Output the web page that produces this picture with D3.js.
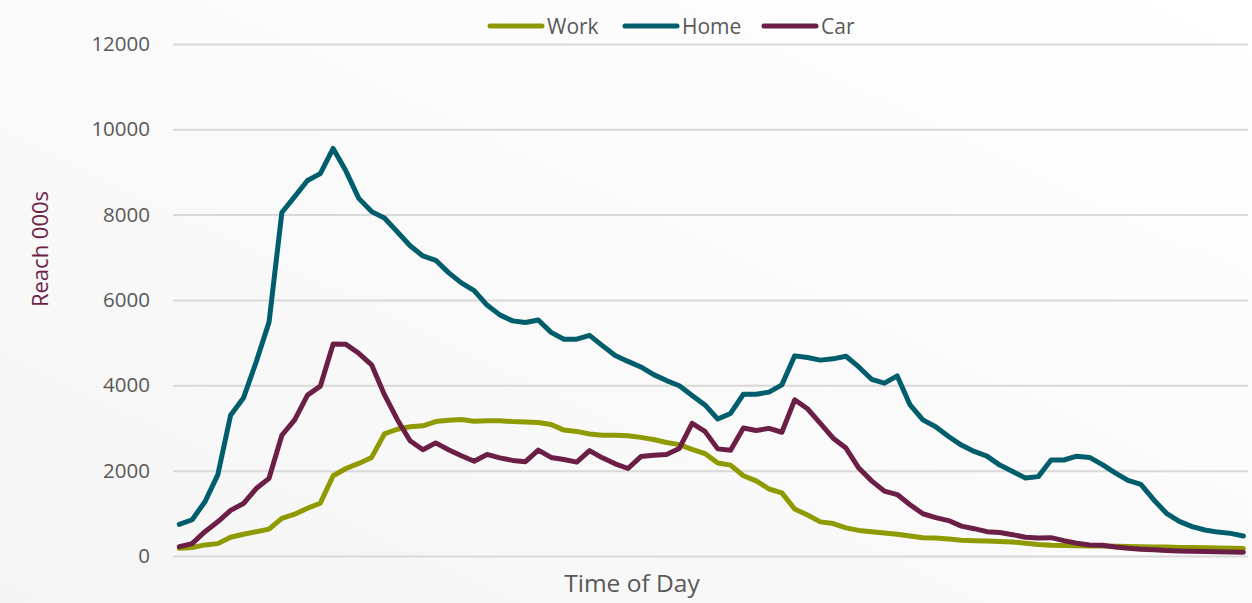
<!DOCTYPE html>
<html>
<head>
<meta charset="utf-8">
<script src="https://cdn.jsdelivr.net/npm/d3@7/dist/d3.min.js"></script>
<style>
  html, body { margin: 0; padding: 0; background: #fff; }
  svg { display: block; font-family: 'Open Sans', sans-serif; }
</style>
</head>
<body>
<svg id="chart" width="1252" height="603"></svg>
<script>
// quarter-hour slots (not shown on the axis)
var times = ['05:00','05:15','05:30','05:45','06:00','06:15','06:30','06:45','07:00','07:15','07:30','07:45',
  '08:00','08:15','08:30','08:45','09:00','09:15','09:30','09:45','10:00','10:15','10:30','10:45',
  '11:00','11:15','11:30','11:45','12:00','12:15','12:30','12:45','13:00','13:15','13:30','13:45',
  '14:00','14:15','14:30','14:45','15:00','15:15','15:30','15:45','16:00','16:15','16:30','16:45',
  '17:00','17:15','17:30','17:45','18:00','18:15','18:30','18:45','19:00','19:15','19:30','19:45',
  '20:00','20:15','20:30','20:45','21:00','21:15','21:30','21:45','22:00','22:15','22:30','22:45',
  '23:00','23:15','23:30','23:45','00:00','00:15','00:30','00:45','01:00','01:15','01:30','01:45'];

var work = [180,200,260,290,440,510,570,630,880,980,1120,1240,1880,2050,2170,2310,2860,2970,3030,3050,
  3150,3180,3200,3160,3170,3170,3150,3140,3130,3080,2950,2920,2860,2830,2830,2820,2780,2730,2660,2610,
  2500,2400,2180,2130,1880,1760,1570,1480,1100,960,800,760,660,600,570,540,510,470,430,420,
  400,370,360,350,340,330,300,270,250,245,240,235,232,228,222,218,212,208,202,198,192,186,180,175];

var home = [740,850,1270,1900,3300,3700,4550,5480,8050,8420,8800,8960,9550,9020,8380,8070,7920,7600,7270,7030,
  6930,6640,6400,6220,5880,5650,5510,5470,5530,5240,5080,5080,5170,4930,4700,4560,4430,4250,4110,3990,
  3760,3540,3210,3340,3790,3790,3840,4010,4690,4650,4590,4620,4680,4430,4140,4050,4220,3540,3190,3030,
  2800,2600,2450,2340,2130,1980,1830,1860,2250,2250,2340,2310,2140,1950,1770,1680,1320,1000,810,690,
  610,560,530,470];

var car = [220,290,570,800,1070,1230,1580,1820,2830,3190,3770,3980,4970,4960,4750,4480,3780,3200,2700,2490,
  2650,2490,2350,2220,2380,2300,2240,2210,2480,2310,2260,2200,2470,2300,2160,2050,2330,2360,2380,2520,
  3110,2920,2510,2480,3000,2940,2990,2900,3660,3450,3110,2760,2530,2060,1760,1520,1440,1200,990,900,
  830,700,640,570,550,500,440,420,430,360,300,260,250,210,180,160,145,130,120,110,105,100,95,90];

var yTicks = [0, 2000, 4000, 6000, 8000, 10000, 12000];

var seriesNames = ['Work', 'Home', 'Car'];
var seriesColors = ['#8f9a00', '#005e6c', '#6b1f47'];

var svg = d3.select('#chart');

// faint background wash
var defs = svg.append('defs');
var grad = defs.append('linearGradient')
    .attr('id', 'bg')
    .attr('x1', '100%').attr('y1', '0%')
    .attr('x2', '0%').attr('y2', '100%');
grad.append('stop').attr('offset', '0%').attr('stop-color', '#ffffff');
grad.append('stop').attr('offset', '100%').attr('stop-color', '#f5f5f5');
svg.append('rect')
    .attr('width', 1252)
    .attr('height', 603)
    .attr('fill', 'url(#bg)');

var x = d3.scalePoint()
    .domain(times)
    .range([179.3, 1243.4]);

var y = d3.scaleLinear()
    .domain([0, 12000])
    .range([556, 43.9]);

// grid + tick labels
var yAxis = svg.append('g')
    .attr('class', 'axis')
    .attr('transform', 'translate(173,0)')
    .call(d3.axisLeft(y).tickValues(yTicks).tickSize(-1075).tickPadding(23).tickFormat(d3.format('d')));

yAxis.select('.domain').remove();
yAxis.selectAll('.tick line')
    .attr('stroke', '#d9d9d9')
    .attr('stroke-width', 2);
yAxis.selectAll('.tick text')
    .attr('fill', '#595959')
    .attr('font-size', '20.5px')
    .attr('font-family', "'Open Sans', sans-serif");

// lines
var seriesData = [work, home, car];
var line = d3.line()
    .x(function(d, i) { return x(times[i]); })
    .y(function(d) { return y(d); });

svg.append('g')
    .selectAll('path')
    .data(seriesData)
    .enter().append('path')
    .attr('d', line)
    .attr('fill', 'none')
    .attr('stroke', function(d, i) { return seriesColors[i]; })
    .attr('stroke-width', 5)
    .attr('stroke-linejoin', 'round')
    .attr('stroke-linecap', 'round');

// axis titles
svg.append('text')
    .attr('x', 632)
    .attr('y', 592)
    .attr('text-anchor', 'middle')
    .attr('font-size', '24.5px')
    .attr('fill', '#595959')
    .text('Time of Day');

svg.append('text')
    .attr('transform', 'translate(48,249) rotate(-90)')
    .attr('text-anchor', 'middle')
    .attr('font-size', '22px')
    .attr('fill', '#6b1f47')
    .text('Reach 000s');

// legend
var legendX = [488, 623, 762];
var legend = svg.append('g')
    .selectAll('g')
    .data(seriesNames)
    .enter().append('g')
    .attr('transform', function(d, i) {
        return 'translate(' + legendX[i] + ',26)';
    });

legend.append('line')
    .attr('x1', 2)
    .attr('x2', 54)
    .attr('stroke', function(d, i) { return seriesColors[i]; })
    .attr('stroke-width', 5)
    .attr('stroke-linecap', 'round');

legend.append('text')
    .attr('x', 59)
    .attr('y', 7.5)
    .attr('font-size', '21px')
    .attr('fill', '#595959')
    .text(function(d) { return d; });
</script>
</body>
</html>
